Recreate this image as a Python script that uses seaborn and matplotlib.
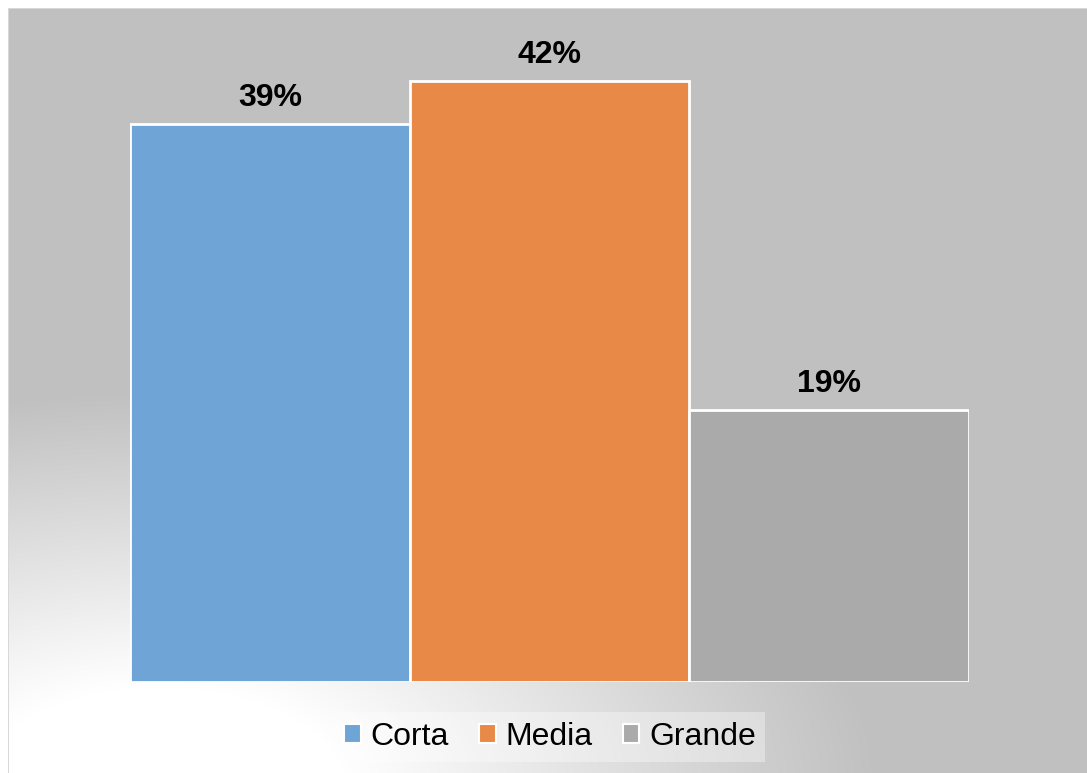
import numpy as np
import matplotlib
matplotlib.use('Agg')
import matplotlib.pyplot as plt
import seaborn as sns
from matplotlib.patches import Patch

# datos del gráfico
categories = ['Corta', 'Media', 'Grande']
values = [39, 42, 19]
labels = ['39%', '42%', '19%']
colors = ['#6EA5D6', '#E88947', '#AAAAAA']

sns.set_theme(style='white')
plt.rcParams['font.family'] = ['Liberation Sans', 'DejaVu Sans']
plt.rcParams['text.color'] = 'black'

W, H = 1087, 773
fig = plt.figure(figsize=(W / 100, H / 100), dpi=100)

# fondo gris con degradado blanco abajo a la izquierda
bg = fig.add_axes([0, 0, 1, 1])
yy, xx = np.mgrid[0:H, 0:W]
d = np.sqrt(((xx - 160) / 720) ** 2 + ((yy - 790) / 400) ** 2)
w = np.clip(1.35 * (1 - d), 0, 1)
g = (192 + 63 * w) / 255
img = np.dstack([g, g, g])
img[:8, :] = 1
img[:, :8] = 1
img[8, 8:] = 0.85
img[8:, 8] = 0.85
bg.imshow(img, aspect='auto', interpolation='nearest')
bg.axis('off')

# barras
ax = fig.add_axes([130 / W, 91 / H, 839 / W, 657 / H])
sns.barplot(x=categories, y=values, hue=categories, palette=colors, width=1,
            saturation=1, edgecolor='white', linewidth=2, legend=False, ax=ax)
ax.set_xlim(-0.5, 2.5)
ax.set_ylim(0, 45.9)
ax.axis('off')

for bar, lab in zip(ax.patches, labels):
    ax.annotate(lab, (bar.get_x() + bar.get_width() / 2, bar.get_height()),
                xytext=(0, 13), textcoords='offset points', ha='center',
                va='baseline', fontsize=23, fontweight='bold', color='black')

# leyenda abajo
handles = [Patch(facecolor=c, edgecolor='white', linewidth=1.5, label=n)
           for n, c in zip(categories, colors)]
fig.legend(handles=handles, loc='center', bbox_to_anchor=(550 / W, 36 / H),
           ncol=3, fontsize=23, frameon=True, fancybox=False, framealpha=0.35,
           facecolor='white', edgecolor='none', handlelength=0.52,
           handleheight=0.52, handletextpad=0.3, columnspacing=0.95,
           borderpad=0.3, labelcolor='black')

fig.savefig('out.png', dpi=100)
